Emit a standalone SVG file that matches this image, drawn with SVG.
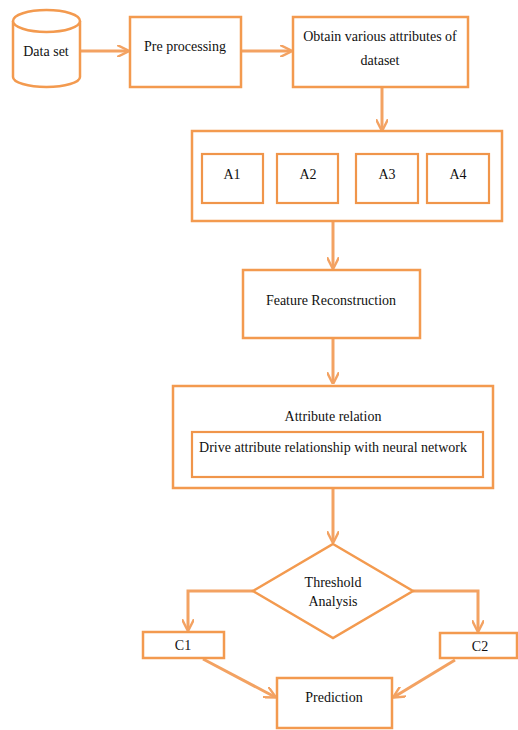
<svg xmlns="http://www.w3.org/2000/svg" width="518" height="730" viewBox="0 0 518 730">
<defs>
<style>
.box{fill:#fff;stroke:#F39A4F;stroke-width:2.5}
.ibox{fill:#fff;stroke:#F0954A;stroke-width:2.2}
.t{font-family:"Liberation Serif","Times New Roman",serif;font-size:14px;fill:#111;text-anchor:middle}
.c{fill:none;stroke:#F3A262;stroke-width:3}
</style>
<marker id="ah" viewBox="0 0 10 10" refX="9" refY="5" markerWidth="4" markerHeight="4" orient="auto" markerUnits="strokeWidth">
<path d="M0,0 L10,5 L0,10" fill="none" stroke="#F3A262" stroke-width="2"/>
</marker>
</defs>
<rect width="518" height="730" fill="#fff"/>
<g id="connectors">
<line class="c" x1="80" y1="51" x2="128" y2="51" marker-end="url(#ah)"/>
<line class="c" x1="241" y1="51" x2="291" y2="51" marker-end="url(#ah)"/>
<line class="c" x1="382" y1="87" x2="382" y2="130" marker-end="url(#ah)"/>
<line class="c" x1="333" y1="221" x2="333" y2="268" marker-end="url(#ah)"/>
<line class="c" x1="333" y1="338" x2="333" y2="383" marker-end="url(#ah)"/>
<line class="c" x1="333" y1="488" x2="333" y2="542" marker-end="url(#ah)"/>
<polyline class="c" points="253,591 188,591 188,630" marker-end="url(#ah)"/>
<polyline class="c" points="413,591 478,591 478,631" marker-end="url(#ah)"/>
<line class="c" x1="203" y1="659" x2="275" y2="697" marker-end="url(#ah)"/>
<line class="c" x1="455" y1="660" x2="394" y2="697" marker-end="url(#ah)"/>
</g>
<g id="dataset">
<path class="box" d="M13,21 L13,77 A33.5,10 0 0 0 80,77 L80,21"/>
<ellipse class="box" cx="46.5" cy="21" rx="33.5" ry="11"/>
<text class="t" x="46" y="56">Data set</text>
</g>
<g id="preprocessing">
<rect class="box" x="130" y="17" width="111" height="70"/>
<text class="t" x="185" y="51">Pre processing</text>
</g>
<g id="obtain">
<rect class="box" x="293" y="17" width="175" height="70"/>
<text class="t" x="380" y="41">Obtain various attributes of</text>
<text class="t" x="380" y="65">dataset</text>
</g>
<g id="attributes">
<rect class="box" x="192" y="131" width="310" height="90"/>
<g id="A1"><rect class="ibox" x="202" y="154" width="61" height="49"/><text class="t" x="232" y="179">A1</text></g>
<g id="A2"><rect class="ibox" x="277" y="154" width="61" height="49"/><text class="t" x="308" y="179">A2</text></g>
<g id="A3"><rect class="ibox" x="356" y="154" width="62" height="49"/><text class="t" x="387" y="179">A3</text></g>
<g id="A4"><rect class="ibox" x="427" y="154" width="62" height="49"/><text class="t" x="458" y="179">A4</text></g>
</g>
<g id="feature">
<rect class="box" x="243" y="270" width="177" height="68"/>
<text class="t" x="331" y="305">Feature Reconstruction</text>
</g>
<g id="attrrel">
<rect class="box" x="173" y="386" width="320" height="102"/>
<text class="t" x="333" y="421">Attribute relation</text>
<g id="drive">
<rect class="ibox" x="192" y="432" width="291" height="45"/>
<text class="t" x="333" y="452">Drive attribute relationship with neural network</text>
</g>
</g>
<g id="threshold">
<polygon class="box" points="333,544 413,591 333,638 253,591"/>
<text class="t" x="333" y="587">Threshold</text>
<text class="t" x="333" y="606">Analysis</text>
</g>
<g id="C1">
<rect class="box" x="143" y="632" width="81" height="26"/>
<text class="t" x="183" y="650">C1</text>
</g>
<g id="C2">
<rect class="box" x="440" y="633" width="77" height="25"/>
<text class="t" x="480" y="651">C2</text>
</g>
<g id="prediction">
<rect class="box" x="277" y="678" width="115" height="50"/>
<text class="t" x="334" y="702">Prediction</text>
</g>
</svg>
